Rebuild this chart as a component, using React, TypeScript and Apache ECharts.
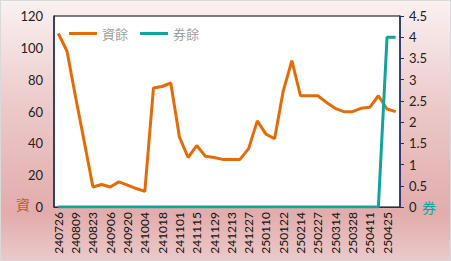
import React, { useEffect, useRef } from "react";
import * as echarts from "echarts";

const dates = [
  "240726", "240802", "240809", "240816", "240823", "240830", "240906", "240913",
  "240920", "240927", "241004", "241011", "241018", "241025", "241101", "241108",
  "241115", "241122", "241129", "241206", "241213", "241220", "241227", "250103",
  "250110", "250117", "250122", "250207", "250214", "250221", "250227", "250307",
  "250314", "250321", "250328", "250402", "250411", "250418", "250425", "250502",
];

const marginBalance = [
  109, 98, 69, 41, 12.6, 14.1, 12.6, 15.8, 13.7, 11.6,
  9.8, 74.8, 75.7, 77.9, 44, 31.1, 38.6, 31.9, 31.1, 29.9,
  29.9, 29.9, 36.7, 54.1, 45.8, 42.9, 72.8, 92, 69.9, 69.9,
  69.9, 65.7, 62, 59.9, 59.9, 62, 62.6, 69.9, 61.6, 59.9,
];

const shortBalance = [
  0, 0, 0, 0, 0, 0, 0, 0, 0, 0,
  0, 0, 0, 0, 0, 0, 0, 0, 0, 0,
  0, 0, 0, 0, 0, 0, 0, 0, 0, 0,
  0, 0, 0, 0, 0, 0, 0, 0, 4, 4,
];

const seriesNames = ["資餘", "券餘"];
const ORANGE = "#E36C09";
const TEAL = "#12A39E";
const NAVY = "#1F2F6B";
const FONT = "Lato, 'Noto Sans CJK TC', sans-serif";

export default function App() {
  const ref = useRef<HTMLDivElement>(null);
  useEffect(() => {
    const chart = echarts.init(ref.current!, null, { renderer: "svg" });
    chart.setOption({
      animation: false,
      backgroundColor: {
        type: "linear",
        x: 0, y: 0, x2: 0, y2: 1,
        colorStops: [
          { offset: 0, color: "#faf1f1" },
          { offset: 0.4, color: "#eccaca" },
          { offset: 0.82, color: "#e2acac" },
          { offset: 1, color: "#ecc9c9" },
        ],
      },
      grid: {
        left: 53, right: 50, top: 15, bottom: 53,
        show: true, backgroundColor: "#ffffff", borderColor: "#000", borderWidth: 1,
      },
      legend: {
        left: 63, top: 21,
        itemWidth: 28, itemHeight: 3, itemGap: 12,
        icon: "rect",
        textStyle: { color: "#a0a0a0", fontSize: 13, fontFamily: FONT },
        data: seriesNames,
      },
      xAxis: {
        type: "category",
        data: dates,
        boundaryGap: true,
        axisLine: { lineStyle: { color: NAVY, width: 1 } },
        axisTick: { show: false },
        axisLabel: { interval: 1, rotate: 90, margin: 5, color: "#111", fontSize: 12, fontFamily: FONT },
      },
      yAxis: [
        {
          type: "value", min: 0, max: 120, interval: 20,
          splitLine: { show: false },
          axisLine: { show: true, lineStyle: { color: NAVY, width: 1.5 } },
          axisTick: { show: false },
          axisLabel: { color: "#222", fontSize: 13, margin: 11, fontFamily: FONT },
        },
        {
          type: "value", min: 0, max: 4.5, interval: 0.5, position: "right",
          splitLine: { show: false },
          axisLine: { show: true, lineStyle: { color: NAVY, width: 1.5 } },
          axisTick: { show: true, length: 4, lineStyle: { color: NAVY } },
          axisLabel: { color: "#222", fontSize: 13, margin: 9, fontFamily: FONT },
        },
      ],
      graphic: [
        { type: "text", left: 15, top: 196, style: { text: "資", fill: "#B5652A", fontSize: 14, fontFamily: "'Noto Sans CJK TC'" } },
        { type: "text", left: 421, top: 199, style: { text: "券", fill: TEAL, fontSize: 14, fontFamily: "'Noto Sans CJK TC'" } },
      ],
      series: [
        {
          name: seriesNames[0], type: "line", data: marginBalance, yAxisIndex: 0,
          symbol: "none", lineStyle: { color: ORANGE, width: 3 }, itemStyle: { color: ORANGE },
        },
        {
          name: seriesNames[1], type: "line", data: shortBalance, yAxisIndex: 1,
          symbol: "none", lineStyle: { color: TEAL, width: 3 }, itemStyle: { color: TEAL },
        },
      ],
    });
    return () => chart.dispose();
  }, []);
  return (
    <div
      ref={ref}
      style={{ position: "fixed", left: 0, top: 0, width: 451, height: 261, boxSizing: "border-box", border: "1px solid #d9d9d9" }}
    />
  );
}
